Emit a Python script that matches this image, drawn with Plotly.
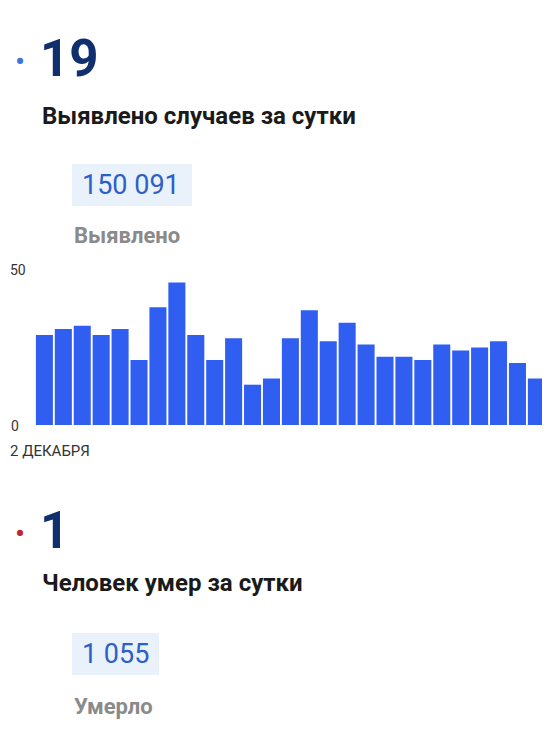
import plotly.graph_objects as go

days = list(range(29))
cases = [29, 31, 32, 29, 31, 21, 38, 46, 29, 21, 28, 13, 15, 28, 37, 27, 33,
         26, 22, 22, 21, 26, 24, 25, 27, 20, 15, 25, 25]
tick_vals = [0, 28]
tick_text = ['2 ДЕКАБРЯ', '30 ДЕКАБРЯ']

OFF = 8  # page body margin
W, H = 550 - OFF, 734 - 2 * OFF


def py(px):
    return 1 - (px - OFF) / H


def px_x(px):
    return (px - OFF) / W


fig = go.Figure(go.Bar(x=days, y=cases, marker_color='#2f5ef0',
                       marker_line_width=0, hoverinfo='skip'))

fig.update_layout(
    width=W, height=H, margin=dict(l=0, r=0, t=0, b=0),
    paper_bgcolor='white', plot_bgcolor='white', showlegend=False,
    bargap=0.1,
    font=dict(family='Roboto', color='#222'),
    xaxis=dict(domain=[px_x(34), 1], range=[-0.55, 26.72], showticklabels=False,
               showgrid=False, zeroline=False, fixedrange=True),
    yaxis=dict(domain=[py(425), py(270)], range=[0, 50], showticklabels=False,
               showgrid=True, gridcolor='#eeeeee', tickvals=[50],
               zeroline=False, fixedrange=True),
)

ann = []


def text(x, y, s, size, color, bold=False, xanchor='left'):
    ann.append(dict(x=px_x(x), y=py(y), xref='paper', yref='paper', text=s,
                    showarrow=False, xanchor=xanchor, yanchor='middle',
                    font=dict(size=size, color=color,
                              family='Roboto', weight=700 if bold else 400)))


# header block 1
text(13, 62, '•', 30, '#3f74d8')
text(38, 58, '19', 51, '#0f2f6e', bold=True)
text(40, 116, 'Выявлено случаев за сутки', 24, '#1a1a1a', bold=True)
text(80, 185, '150 091', 27, '#2d5fc8')
text(72, 236, 'Выявлено', 22, '#8a8a8a', bold=True)
text(8, 270, '50', 14, '#333')
text(9, 426, '0', 14, '#333')
# x tick labels
text(8, 451, tick_text[0], 15, '#333')
ann.append(dict(x=tick_vals[1], y=py(451), xref='x', yref='paper',
                text=tick_text[1], showarrow=False, xanchor='center',
                yanchor='middle',
                font=dict(size=15, color='#333', family='Roboto')))

# header block 2
text(13, 533, '•', 30, '#c0262d')
text(38, 530, '1', 51, '#0f2f6e', bold=True)
text(40, 583, 'Человек умер за сутки', 24, '#1a1a1a', bold=True)
text(80, 654, '1 055', 27, '#2d5fc8')
text(72, 706, 'Умерло', 22, '#8a8a8a', bold=True)

fig.update_layout(annotations=ann, shapes=[
    dict(type='rect', xref='paper', yref='paper', x0=px_x(72), x1=px_x(192),
         y0=py(206), y1=py(164), fillcolor='#e9f1fb', line_width=0, layer='below'),
    dict(type='rect', xref='paper', yref='paper', x0=px_x(72), x1=px_x(159),
         y0=py(675), y1=py(633), fillcolor='#e9f1fb', line_width=0, layer='below'),
])

fig.write_html('out.html')
